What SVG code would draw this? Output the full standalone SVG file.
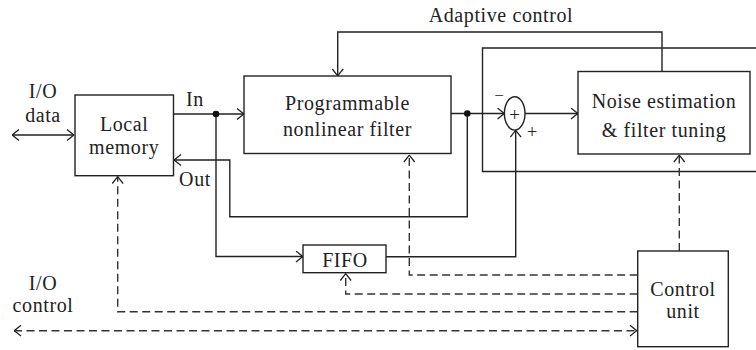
<svg xmlns="http://www.w3.org/2000/svg" width="756" height="350" viewBox="0 0 756 350">
<style>
.box{fill:#fff;stroke:#222;stroke-width:1.4}
.ln{fill:none;stroke:#222;stroke-width:1.4}
.dl{fill:none;stroke:#333;stroke-width:1.4;stroke-dasharray:8,4.5}
text{font-family:"Liberation Serif","Times New Roman",serif;font-size:20px;letter-spacing:0.6px;fill:#222;text-anchor:middle}
</style>
<defs>
<marker id="ah" viewBox="0 0 8 12" refX="7.6" refY="6" markerWidth="8" markerHeight="12" markerUnits="userSpaceOnUse" orient="auto-start-reverse">
<path d="M0.6,0.6 L7.4,6 L0.6,11.4" fill="none" stroke="#222" stroke-width="1.3" stroke-dasharray="none"/>
</marker>
</defs>
<rect width="756" height="350" fill="#fff"/>
<g id="connectors">
<path class="ln" d="M760,48 H482.5 V171.5 H760"/>
<path class="ln" d="M12,135 H74" marker-start="url(#ah)" marker-end="url(#ah)"/>
<path class="ln" d="M173.5,114 H244" marker-end="url(#ah)"/>
<path class="ln" d="M216,114 V256.5 H303" marker-end="url(#ah)"/>
<path class="ln" d="M662,71.5 V32 H337.7 V76" marker-end="url(#ah)"/>
<path class="ln" d="M451,113.5 H504.5" marker-end="url(#ah)"/>
<path class="ln" d="M525,113.5 H578" marker-end="url(#ah)"/>
<path class="ln" d="M467.3,113.5 V216.7 H229.8 V160 H174" marker-end="url(#ah)"/>
<path class="ln" d="M386,256.7 H515.7 V130.2" marker-end="url(#ah)"/>
<circle cx="216" cy="114" r="3.3" fill="#111"/>
<circle cx="467.3" cy="113.5" r="3.3" fill="#111"/>
<path class="dl" d="M637.7,275 H409.3 V155" marker-end="url(#ah)"/>
<path class="dl" d="M637.7,294 H345.7 V273.5" marker-end="url(#ah)"/>
<path class="dl" d="M637.7,311.7 H117.7 V176.5" marker-end="url(#ah)"/>
<path class="dl" d="M14,330.7 H637" marker-start="url(#ah)" marker-end="url(#ah)"/>
<path class="dl" d="M679.3,251 V155" marker-end="url(#ah)"/>
</g>
<g id="io-data"><text x="43" y="97.5">I/O</text><text x="43" y="122">data</text></g>
<g id="local-memory"><rect class="box" x="75" y="95" width="98.5" height="80.7"/><text x="124.2" y="131.3">Local</text><text x="124.2" y="153.6">memory</text></g>
<g id="label-in"><text x="195" y="106">In</text></g>
<g id="label-out"><text x="195" y="186">Out</text></g>
<g id="filter"><rect class="box" x="244" y="76" width="207" height="77.5"/><text x="347.5" y="110">Programmable</text><text x="347.5" y="135.5">nonlinear filter</text></g>
<g id="label-adaptive"><text x="501" y="21.5">Adaptive control</text></g>
<g id="sum"><ellipse cx="514.7" cy="113.4" rx="10.3" ry="16.7" fill="#fff" stroke="#222" stroke-width="1.4"/><text x="514.7" y="121" style="font-size:19px;letter-spacing:0">+</text><text x="499" y="101" style="font-size:17px;letter-spacing:0">−</text><text x="532" y="138" style="font-size:18px;letter-spacing:0">+</text></g>
<g id="noise"><rect class="box" x="578" y="71.5" width="172" height="82.5"/><text x="664" y="108.3">Noise estimation</text><text x="664" y="136.7">&amp; filter tuning</text></g>
<g id="fifo"><rect class="box" x="303" y="245" width="83" height="27.7"/><text x="345" y="266.5">FIFO</text></g>
<g id="io-control"><text x="43" y="290">I/O</text><text x="43" y="312.3">control</text></g>
<g id="control-unit"><rect class="box" x="637.7" y="251" width="90.6" height="95.7"/><text x="683" y="295.7">Control</text><text x="683" y="317.7">unit</text></g>
</svg>
